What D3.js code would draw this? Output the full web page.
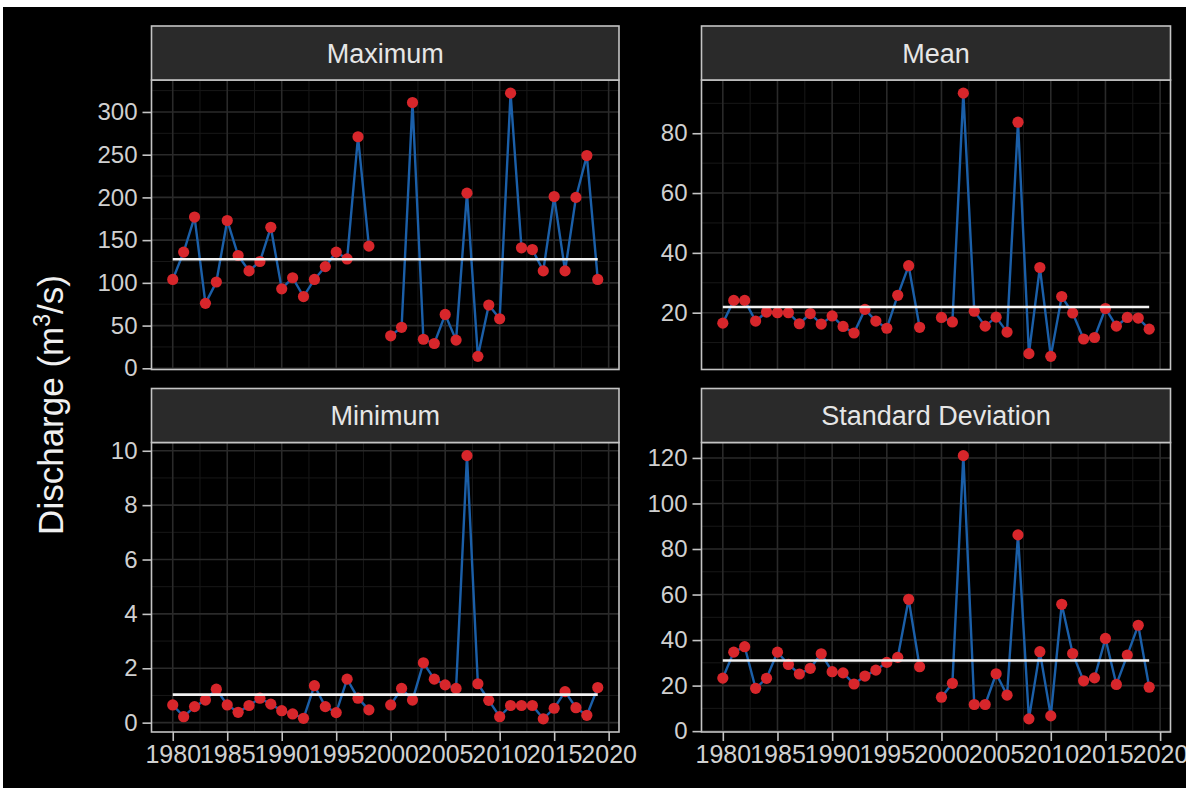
<!DOCTYPE html>
<html><head><meta charset="utf-8">
<script src="https://cdn.jsdelivr.net/npm/d3@7"></script>
<style>html,body{margin:0;padding:0;background:#fff;overflow:hidden}</style>
</head><body>
<svg id="chart" width="1186" height="788"></svg>
<script>
const years = [1980,1981,1982,1983,1984,1985,1986,1987,1988,1989,1990,1991,1992,1993,1994,1995,1996,1997,1998,1999,
               2000,2001,2002,2003,2004,2005,2006,2007,2008,2009,2010,2011,2012,2013,2014,2015,2016,2017,2018,2019];
const maximumQ = [104,136,177,76,101,173,132,114,125,165,93,106,84,104,119,136,128,271,143,null,
                  38,48,311,34,29,63,33,205,14,74,58,322,141,139,114,201,114,200,249,104];
const meanQ = [16.5,24.1,24.1,17.2,20.2,20.0,20.0,16.3,19.7,16.2,18.9,15.4,13.2,21.1,17.2,14.8,25.8,35.7,15.1,null,
               18.4,16.9,93.4,20.5,15.5,18.5,13.5,83.7,6.3,35.1,5.4,25.4,19.9,11.2,11.7,21.4,15.5,18.4,18.2,14.5];
const minimumQ = [0.65,0.22,0.59,0.83,1.23,0.65,0.38,0.63,0.90,0.68,0.44,0.32,0.16,1.36,0.59,0.37,1.60,0.90,0.47,null,
                  0.65,1.26,0.83,2.20,1.60,1.39,1.26,9.82,1.43,0.82,0.22,0.63,0.63,0.63,0.14,0.53,1.14,0.55,0.27,1.29];
const sdQ = [23.3,34.7,37.1,18.8,23.2,34.7,29.3,25.1,27.6,34.0,26.1,25.6,20.7,24.2,26.8,30.2,32.4,57.9,28.3,null,
             14.9,21.0,121.0,11.7,11.7,25.2,15.8,86.2,5.4,34.9,6.7,55.7,34.1,22.1,23.4,40.7,20.5,33.4,46.5,19.3];
const facetNames = ["Maximum","Mean","Minimum","Standard Deviation"];
const xTicks = [1980,1985,1990,1995,2000,2005,2010,2015,2020];
const maxTicks = [0,50,100,150,200,250,300];
const meanTicks = [20,40,60,80];
const minTicks = [0,2,4,6,8,10];
const sdTicks = [0,20,40,60,80,100,120];
const yTitle = "Discharge (m";

const seriesList = [maximumQ, meanQ, minimumQ, sdQ];
const tickList = [maxTicks, meanTicks, minTicks, sdTicks];

const svg = d3.select("#chart");
const FONT = "'Liberation Sans', Arial, Helvetica, sans-serif";
svg.append("rect").attr("x",3).attr("y",7).attr("width",1183).attr("height",781).attr("fill","#000");

const colX = [151.5, 701.5], colW = [467.5, 469];
const rowY = [80, 442.5], panelH = 289.5, stripH = 54;

function expand(ext){ const p=(ext[1]-ext[0])*0.05; return [ext[0]-p, ext[1]+p]; }
const xDom = expand(d3.extent(years));

seriesList.forEach((vals, i) => {
  const col = i % 2, row = Math.floor(i/2);
  const x0 = colX[col], w = colW[col], y0 = rowY[row];
  const g = svg.append("g");
  const x = d3.scaleLinear().domain(xDom).range([x0, x0+w]);
  const yDom = expand(d3.extent(vals.filter(v=>v!=null)));
  const y = d3.scaleLinear().domain(yDom).range([y0+panelH, y0]);
  const yt = tickList[i];
  const step = yt[1]-yt[0];
  const yMinor = d3.range(yt[0]-step/2, yt[yt.length-1]+step, step).filter(v=>v>yDom[0]&&v<yDom[1]);
  const xMinor = d3.range(1977.5, 2022, 5).filter(v=>v>xDom[0]&&v<xDom[1]);
  g.append("rect").attr("x",x0).attr("y",y0).attr("width",w).attr("height",panelH).attr("fill","#000");
  const grid = g.append("g");
  grid.selectAll(".ymn").data(yMinor).join("line").attr("x1",x0).attr("x2",x0+w)
    .attr("y1",d=>y(d)).attr("y2",d=>y(d)).attr("stroke","#181818").attr("stroke-width",1);
  grid.selectAll(".xmn").data(xMinor).join("line").attr("y1",y0).attr("y2",y0+panelH)
    .attr("x1",d=>x(d)).attr("x2",d=>x(d)).attr("stroke","#181818").attr("stroke-width",1);
  grid.selectAll(".ymj").data(yt).join("line").attr("x1",x0).attr("x2",x0+w)
    .attr("y1",d=>y(d)).attr("y2",d=>y(d)).attr("stroke","#2a2a2a").attr("stroke-width",1.6);
  grid.selectAll(".xmj").data(xTicks).join("line").attr("y1",y0).attr("y2",y0+panelH)
    .attr("x1",d=>x(d)).attr("x2",d=>x(d)).attr("stroke","#2a2a2a").attr("stroke-width",1.6);

  const pts = years.map((yr,k)=>({yr, v: vals[k]}));
  const line = d3.line().defined(d=>d.v!=null).x(d=>x(d.yr)).y(d=>y(d.v));
  g.append("path").datum(pts).attr("d",line).attr("fill","none").attr("stroke","#1b5fa8").attr("stroke-width",2.4);
  g.selectAll(".pt").data(pts.filter(d=>d.v!=null)).join("circle")
    .attr("cx",d=>x(d.yr)).attr("cy",d=>y(d.v)).attr("r",5.6).attr("fill","#d7262b");
  const m = d3.mean(vals.filter(v=>v!=null));
  g.append("line").attr("x1",x(years[0])).attr("x2",x(years[years.length-1]))
    .attr("y1",y(m)).attr("y2",y(m)).attr("stroke","#f2f2f2").attr("stroke-width",2.6);

  g.append("rect").attr("x",x0).attr("y",y0).attr("width",w).attr("height",panelH)
    .attr("fill","none").attr("stroke","#c4c4c4").attr("stroke-width",1.6);
  g.append("rect").attr("x",x0).attr("y",y0-stripH).attr("width",w).attr("height",stripH)
    .attr("fill","#2a2a2a").attr("stroke","#c4c4c4").attr("stroke-width",1.6);
  g.append("text").attr("x",x0+w/2).attr("y",y0-stripH/2).attr("dy","0.36em")
    .attr("text-anchor","middle").attr("font-family",FONT).attr("font-size",27)
    .attr("fill","#e6e6e6").text(facetNames[i]);

  const ya = g.append("g").attr("transform",`translate(${x0},0)`)
    .call(d3.axisLeft(y).tickValues(yt).tickSize(9).tickPadding(5));
  ya.select(".domain").remove();
  ya.selectAll(".tick line").attr("stroke","#c4c4c4").attr("stroke-width",1.6);
  ya.selectAll(".tick text").attr("font-family",FONT).attr("font-size",24).attr("fill","#d0d0d0");
  if (row === 1) {
    const xa = g.append("g").attr("transform",`translate(0,${y0+panelH})`)
      .call(d3.axisBottom(x).tickValues(xTicks).tickFormat(d3.format("d")).tickSize(9).tickPadding(4));
    xa.select(".domain").remove();
    xa.selectAll(".tick line").attr("stroke","#c4c4c4").attr("stroke-width",1.6);
    xa.selectAll(".tick text").attr("font-family",FONT).attr("font-size",25).attr("fill","#d0d0d0");
  }
});

const t = svg.append("text").attr("transform","translate(63,405) rotate(-90)")
  .attr("text-anchor","middle").attr("font-family",FONT).attr("font-size",35).attr("fill","#f0f0f0");
t.append("tspan").text(yTitle);
t.append("tspan").attr("font-size",23).attr("dy",-13).text("3");
t.append("tspan").attr("dy",13).text("/s)");
</script>
</body></html>
